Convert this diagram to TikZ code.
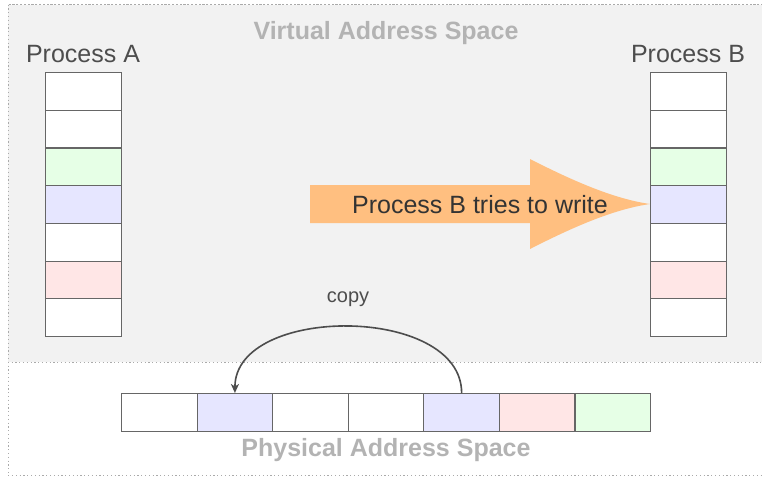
\documentclass[tikz,border=0pt]{standalone}
\usepackage{fontspec}
\setmainfont{Liberation Sans}
\usetikzlibrary{arrows.meta}
\definecolor{areagray}{HTML}{F2F2F2}
\definecolor{dotgray}{HTML}{AAAAAA}
\definecolor{titlegray}{HTML}{B3B3B3}
\definecolor{labelgray}{HTML}{4D4D4D}
\definecolor{cellline}{HTML}{666666}
\definecolor{pgreen}{HTML}{E6FFE6}
\definecolor{pblue}{HTML}{E6E6FF}
\definecolor{pred}{HTML}{FFE6E6}
\definecolor{arroworange}{HTML}{FFBF80}
\definecolor{darktext}{HTML}{333333}
\tikzset{
  cell/.style={draw=cellline, line width=1.1pt, minimum width=76pt, minimum height=37.7pt,
    inner sep=0pt, anchor=north west},
  pcell/.style={cell, minimum width=75.6pt, minimum height=38pt},
  area/.style={draw=dotgray, line width=0.9pt, dash pattern=on 1.2pt off 2.6pt},
  title/.style={text=titlegray, font=\fontsize{25}{29}\selectfont\bfseries},
  proclabel/.style={text=labelgray, font=\fontsize{25}{29}\selectfont},
  copyarrow/.style={draw=labelgray, line width=1.6pt, -{Stealth[length=9pt,width=8pt,inset=2.5pt]}}
}
\begin{document}
\begin{tikzpicture}[x=1pt,y=-1pt]
\useasboundingbox (0,0) rectangle (762,477);
\clip (0,0) rectangle (762,477);

% outer region and the virtual address area
\draw[area] (8,4.5) rectangle (790,475.5);
\draw[area, fill=areagray] (8,4.5) rectangle (790,362);

\node[title] (vas) at (386,33) {Virtual Address Space};
\node[title] (pas) at (386,450) {Physical Address Space};

% page tables of the two processes
\foreach \c [count=\i] in {white,white,pgreen,pblue,white,pred,white} {
  \node[cell, fill=\c] (a\i) at (45,{72+(\i-1)*37.714}) {};
  \node[cell, fill=\c] (b\i) at (650,{72+(\i-1)*37.714}) {};
}
\node[proclabel] (la) at (83,54) {Process A};
\node[proclabel] (lb) at (688,54) {Process B};

% physical frames
\foreach \c [count=\i] in {white,pblue,white,white,pblue,pred,pgreen} {
  \node[pcell, fill=\c] (p\i) at ({121+(\i-1)*75.57},393) {};
}

% write attempt arrow
\fill[arroworange] (310,185) -- (530,185) -- (530,159)
  .. controls (575,182) and (615,199) .. (650,204)
  .. controls (615,209) and (575,226) .. (530,249)
  -- (530,223) -- (310,223) -- cycle;
\node[text=darktext, font=\fontsize{25}{29}\selectfont] (write) at (480,205) {Process B tries to write};

% copy-on-write
\draw[copyarrow] (p5.north) to[out=90,in=90] (p2.north);
\node[text=labelgray, font=\fontsize{20}{23}\selectfont] (copy) at (348,299) {copy};
\end{tikzpicture}
\end{document}
